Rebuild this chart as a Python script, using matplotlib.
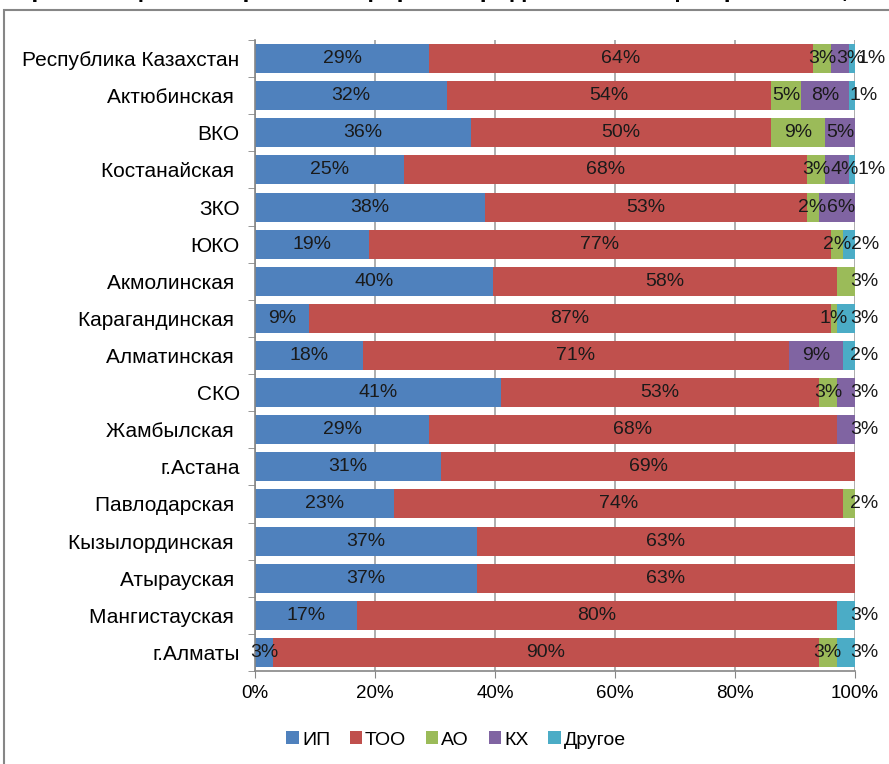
import matplotlib
matplotlib.use('Agg')
import matplotlib.pyplot as plt
import numpy as np
from matplotlib.patches import Rectangle

plt.rcParams['font.family'] = ['Liberation Sans', 'DejaVu Sans']

regions = ['Республика Казахстан', 'Актюбинская ', 'ВКО', 'Костанайская ', 'ЗКО', 'ЮКО',
           'Акмолинская ', 'Карагандинская ', 'Алматинская ', 'СКО', 'Жамбылская ',
           'г.Астана', 'Павлодарская ', 'Кызылординская ', 'Атырауская ', 'Мангистауская ',
           'г.Алматы']
ip    = [29, 32, 36, 25, 38, 19, 40,  9, 18, 41, 29, 31, 23, 37, 37, 17,  3]
too   = [64, 54, 50, 68, 53, 77, 58, 87, 71, 53, 68, 69, 74, 63, 63, 80, 90]
ao    = [ 3,  5,  9,  3,  2,  2,  3,  1,  0,  3,  0,  0,  2,  0,  0,  0,  3]
kh    = [ 3,  8,  5,  4,  6,  0,  0,  0,  9,  3,  3,  0,  0,  0,  0,  0,  0]
other = [ 1,  1,  0,  1,  0,  2,  0,  3,  2,  0,  0,  0,  0,  0,  0,  3,  3]
series_names = ['ИП', 'ТОО', 'АО', 'КХ', 'Другое']
x_ticks = [0, 20, 40, 60, 80, 100]
x_tick_labels = ['0%', '20%', '40%', '60%', '80%', '100%']
title = 'Организационно-правовые формы юридических лиц по регионам, %'

colors = ['#4F81BD', '#C0504D', '#9BBB59', '#8064A2', '#4BACC6']

data = np.array([ip, too, ao, kh, other], dtype=float)
shares = data / data.sum(axis=0) * 100

W, H = 889, 764
fig = plt.figure(figsize=(W / 100, H / 100), dpi=100)
ax = fig.add_axes([255 / W, 1 - 671 / H, 600 / W, (671 - 40) / H])

y = np.arange(len(regions))
left = np.zeros(len(regions))
for i, (name, c) in enumerate(zip(series_names, colors)):
    ax.barh(y, shares[i], left=left, height=0.78, color=c, label=name, zorder=2)
    left += shares[i]

ax.set_xlim(0, 100)
ax.set_ylim(len(regions) - 0.5, -0.5)

fs_bar = 14
fs_cat = 15
fs_tick = 13.5
fs_leg = 14
renderer = fig.canvas.get_renderer()
px_per_unit = 600 / 100.0

for r in range(len(regions)):
    cum = 0.0
    prev_right = None
    nz = [i for i in range(len(series_names)) if data[i, r] > 0]
    last = nz[-1]
    for i in range(len(series_names)):
        w = shares[i, r]
        if data[i, r] <= 0:
            continue
        lab = f'{int(data[i, r])}%'
        t = ax.text(cum + w / 2, r, lab, ha='center', va='center', fontsize=fs_bar,
                    color='#1a1a1a', zorder=5)
        hw = t.get_window_extent(renderer=renderer).width / 2 / px_per_unit
        cx = cum + w / 2
        if prev_right is not None and w < 10:
            cx = max(cx, prev_right + hw)
        if i == last and w < 5 and i > 1:
            cx = max(cx, 101.5)
        cx = min(cx, 102.8)
        t.set_x(cx)
        prev_right = cx + hw
        cum += w

ax.set_xticks(x_ticks)
ax.set_xticklabels(x_tick_labels)
ax.set_yticks(y)
ax.set_yticklabels(regions)
ax.set_yticks(np.arange(len(regions) + 1) - 0.5, minor=True)
ax.tick_params(axis='y', which='major', length=0, pad=11, labelsize=fs_cat)
ax.tick_params(axis='y', which='minor', length=5, color='#868686', direction='out')
ax.tick_params(axis='x', which='major', length=5, color='#868686', direction='out',
               pad=5, labelsize=fs_tick)

ax.xaxis.grid(True, color='#A0A0A0', lw=1.2, zorder=0)
ax.set_axisbelow(True)
for s in ['top', 'right']:
    ax.spines[s].set_visible(False)
for s in ['left', 'bottom']:
    ax.spines[s].set_color('#868686')
    ax.spines[s].set_linewidth(1.2)

fig.legend(loc='center', bbox_to_anchor=(456 / W, 1 - 740 / H), ncol=5, frameon=False,
           handlelength=0.65, handleheight=0.65, handletextpad=0.15, columnspacing=1.0,
           fontsize=fs_leg)

fig.patches.append(Rectangle((4 / W, -0.02), 1.0, (H - 10) / H + 0.02, fill=False,
                             edgecolor='#868686', lw=1.5, transform=fig.transFigure))
fig.text(0.5, 1.0 + 3 / H, title, ha='center', va='baseline', fontsize=18, fontweight='bold')

fig.savefig('out.png', dpi=100)
